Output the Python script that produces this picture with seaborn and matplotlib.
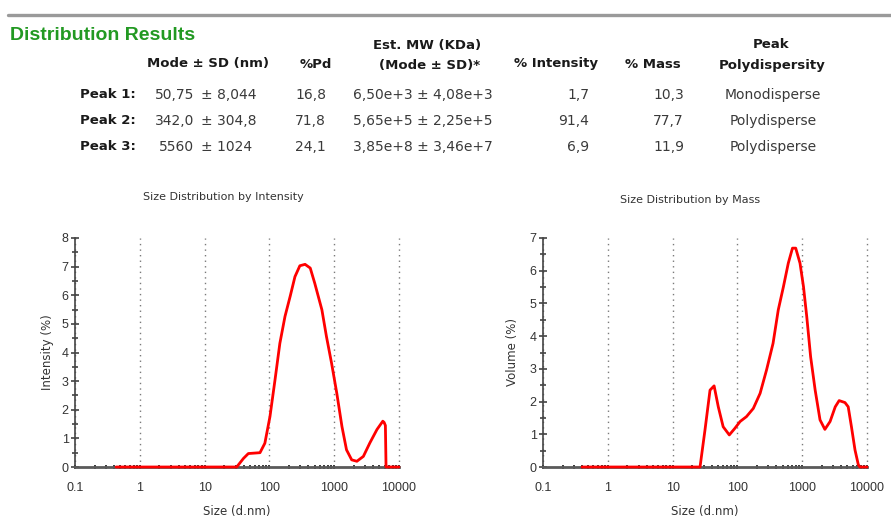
import matplotlib
matplotlib.use("Agg")
import matplotlib.pyplot as plt
import numpy as np
import pandas as pd
import seaborn as sns
from matplotlib.lines import Line2D
from matplotlib.ticker import (FixedLocator, FuncFormatter, LogLocator,
                               MultipleLocator, NullFormatter)

# ---- peak summary table -------------------------------------------------
peak_names = ["Peak 1:", "Peak 2:", "Peak 3:"]
mode_nm = ["50,75", "342,0", "5560"]
sd_nm = ["8,044", "304,8", "1024"]
pd_pct = ["16,8", "71,8", "24,1"]
mw_text = ["6,50e+3 \u00b1 4,08e+3", "5,65e+5 \u00b1 2,25e+5", "3,85e+8 \u00b1 3,46e+7"]
intensity_pct = ["1,7", "91,4", "6,9"]
mass_pct = ["10,3", "77,7", "11,9"]
polydispersity = ["Monodisperse", "Polydisperse", "Polydisperse"]

# ---- size distribution by intensity -------------------------------------
int_size_nm = [0.43, 31.3, 39.8, 47.3, 71.6, 85.1, 102, 122, 145, 174, 209,
               248, 295, 355, 427, 501, 646, 759, 912, 1096, 1318, 1549,
               1862, 2239, 2818, 3548, 4571, 5623, 5888, 6166, 6310, 10000]
int_pct = [0, 0, 0.30, 0.47, 0.50, 0.83, 1.76, 3.04, 4.32, 5.26, 5.96,
           6.65, 7.03, 7.08, 6.95, 6.42, 5.49, 4.56, 3.62, 2.58, 1.41, 0.60,
           0.25, 0.20, 0.37, 0.84, 1.31, 1.60, 1.56, 1.45, 0, 0]

# ---- size distribution by mass ------------------------------------------
mass_size_nm = [0.40, 26.5, 31.6, 37.8, 43.7, 50.7, 60.3, 75.0, 91.2, 110,
                138, 176, 224, 282, 355, 427, 513, 610, 708, 794, 925, 1047,
                1175, 1349, 1585, 1884, 2239, 2692, 3236, 3715, 4571, 5129,
                5754, 6531, 7345, 7762, 10000]
mass_pct_curve = [0, 0, 1.13, 2.35, 2.48, 1.84, 1.23, 0.98, 1.18, 1.39,
                  1.54, 1.79, 2.25, 2.97, 3.78, 4.80, 5.51, 6.23, 6.69, 6.69,
                  6.23, 5.51, 4.60, 3.37, 2.35, 1.44, 1.15, 1.39, 1.84, 2.03,
                  1.97, 1.84, 1.23, 0.52, 0.07, 0, 0]

decade_ticks = [0.1, 1, 10, 100, 1000, 10000]
decade_labels = ["0.1", "1", "10", "100", "1000", "10000"]

sns.set_theme(style="white")
plt.rcParams["font.family"] = ["DejaVu Sans"]

W, H = 891, 518
fig = plt.figure(figsize=(W / 100, H / 100), dpi=100)
fig.patch.set_facecolor("white")


def px(x, y):
    return x / W, 1 - y / H


# top rule and section heading
fig.add_artist(Line2D([8 / W, 1.0], [1 - 15 / H] * 2, color="#9a9a9a",
                      lw=2.4, transform=fig.transFigure))
fig.text(*px(10, 35), "Distribution Results", family="Liberation Sans",
         weight="bold", size=14, color="#229922", ha="left", va="center")

hdr = dict(weight="bold", size=9.5, color="#1a1a1a", va="center")
fig.text(*px(208, 64), "Mode \u00b1 SD (nm)", ha="center", **hdr)
fig.text(*px(316, 64), "%Pd", ha="center", **hdr)
fig.text(*px(427, 45), "Est. MW (KDa)", ha="center", **hdr)
fig.text(*px(430, 65), "(Mode \u00b1 SD)*", ha="center", **hdr)
fig.text(*px(556, 64), "% Intensity", ha="center", **hdr)
fig.text(*px(653, 64), "% Mass", ha="center", **hdr)
fig.text(*px(771, 45), "Peak", ha="center", **hdr)
fig.text(*px(772, 66), "Polydispersity", ha="center", **hdr)

val = dict(size=10, color="#3a3a3a", va="center")
row_y = [95, 121, 147]
for i, y in enumerate(row_y):
    fig.text(*px(80, y), peak_names[i], ha="left", **hdr)
    fig.text(*px(194, y), mode_nm[i], ha="right", **val)
    fig.text(*px(201, y), "\u00b1 " + sd_nm[i], ha="left", **val)
    fig.text(*px(326, y), pd_pct[i], ha="right", **val)
    fig.text(*px(353, y), mw_text[i], ha="left", **val)
    fig.text(*px(589, y), intensity_pct[i], ha="right", **val)
    fig.text(*px(684, y), mass_pct[i], ha="right", **val)
    fig.text(*px(773, y), polydispersity[i], ha="center", **val)

# ---- distribution plots -------------------------------------------------
ax1 = fig.add_axes([75 / W, 51 / H, 324 / W, 229 / H])
ax2 = fig.add_axes([543 / W, 51 / H, 324 / W, 229 / H])

df_int = pd.DataFrame({"size": int_size_nm, "value": int_pct})
df_mass = pd.DataFrame({"size": mass_size_nm, "value": mass_pct_curve})

panels = [
    (ax1, df_int, 8, "Size Distribution by Intensity", "Intensity (%)",
     (0.457, 1.179), -0.066),
    (ax2, df_mass, 7, "Size Distribution by Mass", "Volume (%)",
     (0.454, 1.166), -0.075),
]

label_color = "#333333"

for ax, df, ymax, title, ylabel, title_pos, ylab_x in panels:
    ax.set_facecolor("white")
    sns.lineplot(data=df, x="size", y="value", ax=ax, color="#ff0000",
                 lw=2.0, errorbar=None, zorder=4, clip_on=False)
    ax.set_xscale("log")
    ax.set_xlim(0.1, 10000)
    ax.set_ylim(0, ymax)

    for s in ("top", "right"):
        ax.spines[s].set_visible(False)
    ax.spines["left"].set_color("#444444")
    ax.spines["left"].set_linewidth(1.2)
    ax.spines["bottom"].set_color("#5a5a5a")
    ax.spines["bottom"].set_linewidth(2.0)

    ax.xaxis.set_major_locator(FixedLocator(decade_ticks))
    ax.xaxis.set_major_formatter(
        FuncFormatter(lambda v, p: decade_labels[decade_ticks.index(v)]
                      if v in decade_ticks else ""))
    ax.xaxis.set_minor_locator(LogLocator(base=10, subs=np.arange(2, 10)))
    ax.xaxis.set_minor_formatter(NullFormatter())
    ax.yaxis.set_major_locator(MultipleLocator(1))
    ax.yaxis.set_minor_locator(MultipleLocator(0.5))

    ax.tick_params(axis="x", which="both", direction="inout", length=3,
                   width=1.3, color="#2a2a2a", pad=9, bottom=True,
                   labelsize=9, labelcolor=label_color,
                   labelfontfamily="Liberation Sans")
    ax.tick_params(axis="y", which="major", direction="inout", length=6,
                   width=1.1, color="#333333", pad=1.5, left=True,
                   labelsize=9, labelcolor=label_color,
                   labelfontfamily="Liberation Sans")
    ax.tick_params(axis="y", which="minor", direction="inout", length=5,
                   width=1.1, color="#333333", left=True)

    ax.xaxis.grid(True, which="major", linestyle=(0, (1, 3)),
                  color="#7a7a7a", lw=1.0)
    ax.yaxis.grid(False)
    ax.set_axisbelow(True)
    for tick in ax.xaxis.get_major_ticks():
        tick.gridline.set_clip_on(False)

    ax.text(title_pos[0], title_pos[1], title, transform=ax.transAxes,
            ha="center", va="center", size=8, color=label_color)
    ax.set_xlabel("Size (d.nm)", size=8.5, color=label_color)
    ax.xaxis.set_label_coords(0.5, -0.168)
    ax.set_ylabel(ylabel, size=8.5, color=label_color)
    ax.yaxis.set_label_coords(ylab_x, 0.5)

fig.savefig("out.png", dpi=100, facecolor="white")
